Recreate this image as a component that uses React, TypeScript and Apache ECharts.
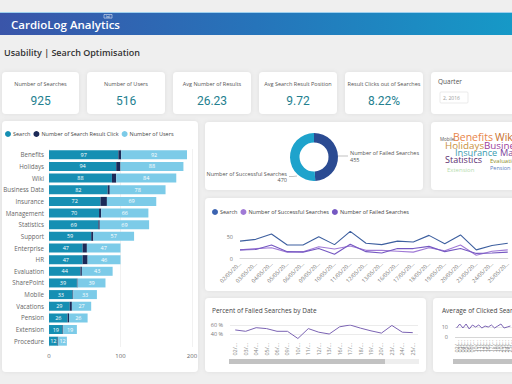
import React, { useEffect, useRef } from "react";
import * as echarts from "echarts";

const kpiLabels = ["Number of Searches", "Number of Users", "Avg Number of Results", "Avg Search Result Position", "Result Clicks out of Searches"];
const kpiValues = ["925", "516", "26.23", "9.72", "8.22%"];

const categories = ["Benefits", "Holidays", "Wiki", "Business Data", "Insurance", "Management", "Statistics", "Support", "Enterprise", "HR", "Evaluation", "SharePoint", "Mobile", "Vacations", "Pension", "Extension", "Procedure"];
const searchVals = [97, 94, 88, 82, 72, 70, 69, 59, 47, 47, 44, 39, 33, 29, 26, 19, 12];
const clickVals = [4, 6, 6, 3, 9, 3, 2, 3, 6, 7, 2, 1, 1, 3, 2, 1, 1];
const userVals = [92, 88, 84, 78, 69, 66, 69, 57, 47, 46, 43, 39, 33, 27, 26, 19, 12];

const donutNames = ["Number of Failed Searches", "Number of Successful Searches"];
const donutVals = [455, 470];

const words = ["Mobile", "Benefits", "Wiki", "Holidays", "Business Data", "Insurance", "Management", "Statistics", "Evaluation", "Extension", "Pension"];

const dates = ["02/05/2016", "03/05/2016", "04/05/2016", "05/05/2016", "06/05/2016", "09/05/2016", "10/05/2016", "11/05/2016", "12/05/2016", "13/05/2016", "16/05/2016", "17/05/2016", "18/05/2016", "19/05/2016", "20/05/2016", "23/05/2016", "24/05/2016", "25/05/2016"];
const searchLine = [40, 44, 56, 31, 31, 50, 32, 62, 35, 32, 40, 38, 53, 34, 54, 20, 30, 35];
const successLine = [20, 23, 25, 15, 16, 27, 22, 29, 19, 19, 17, 15, 25, 18, 31, 8, 17, 20];
const failedLine = [20, 21, 31, 16, 15, 23, 10, 33, 16, 13, 23, 23, 28, 16, 23, 12, 13, 15];
const pctFailed = [49, 46, 54, 52, 46, 46, 30, 52, 44, 40, 56, 60, 53, 47, 42, 59, 44, 43];
const avgClicked = [9, 13, 9, 13, 8, 12, 10, 12, 9, 11, 10, 12, 9, 11, 13, 9, 10, 11];

const FONT = "Open Sans";

// layout of word cloud (position / size / colour), separate from the data
const wordLayout: [number, number, number, string][] = [
  [440, 138.5, 4.5, "#555555"],
  [453, 137, 10.5, "#e8854a"],
  [495, 137, 10.5, "#c8702e"],
  [445, 145, 9.8, "#c9913d"],
  [484, 145, 9.8, "#9b3c9c"],
  [455, 152, 9.2, "#3a9bb0"],
  [500, 152, 9.2, "#7a3f9c"],
  [445, 159, 9, "#5b2d6f"],
  [490, 161, 6, "#8e8e2a"],
  [447, 169.5, 6, "#b5dcae"],
  [490, 167.5, 5.5, "#5d7fbf"],
];

const kpiCards: [number, number][] = [[2, 79], [87, 165], [173, 251], [259, 337], [345, 423]];

function card(x: number, y: number, w: number, h: number) {
  return {
    type: "rect",
    shape: { x, y, width: w, height: h, r: 4 },
    style: { fill: "#ffffff", shadowBlur: 4, shadowColor: "rgba(0,0,0,0.07)" },
    z: 0,
  };
}

function txt(x: number, y: number, text: string, size: number, fill: string, align = "left", weight: any = "normal", family = FONT) {
  return {
    type: "text",
    x,
    y,
    z: 5,
    style: {
      text,
      fill,
      fontSize: size,
      fontFamily: family,
      fontWeight: weight,
      align,
      textAlign: align,
      verticalAlign: "middle",
      textVerticalAlign: "middle",
    },
  };
}

export default function App() {
  const ref = useRef<HTMLDivElement>(null);
  useEffect(() => {
    document.body.style.margin = "0";
    const chart = echarts.init(ref.current!, null, { renderer: "svg" });

    const graphics: any[] = [];
    // header
    graphics.push({
      type: "rect",
      shape: { x: 0, y: 12, width: 512, height: 23 },
      style: {
        fill: new echarts.graphic.LinearGradient(0, 0, 1, 0, [
          { offset: 0, color: "#3a55a9" },
          { offset: 0.5, color: "#2674ba" },
          { offset: 1, color: "#1699c7" },
        ]),
      },
      z: 1,
    });
    graphics.push({ type: "rect", shape: { x: 0, y: 12, width: 512, height: 1 }, style: { fill: "#9fd0ee" }, z: 2 });
    graphics.push(txt(11, 24.5, "CardioLog Analytics", 11.5, "#ffffff", "left", 600));
    graphics.push({ type: "rect", shape: { x: 104, y: 14.5, width: 8, height: 3.6 }, style: { fill: "none", stroke: "#ffffff", lineWidth: 0.5 }, z: 3 });
    graphics.push(txt(108, 16.3, "Intl", 2.6, "#ffffff", "center"));
    graphics.push(txt(4, 52, "Usability | Search Optimisation", 9, "#333333", "left", 600));

    // KPI cards
    kpiCards.forEach(([x0, x1], i) => {
      graphics.push(card(x0, 72, x1 - x0, 42));
      const cx = (x0 + x1) / 2;
      graphics.push(txt(cx, 84, kpiLabels[i], 5.5, "#555555", "center"));
      graphics.push(txt(cx, 101, kpiValues[i], 12, "#23808f", "center", "normal", "Roboto"));
    });
    graphics.push(card(431, 72, 90, 42));
    graphics.push(txt(438, 81, "Quarter", 6.5, "#555555"));
    graphics.push({ type: "rect", shape: { x: 440, y: 92, width: 28, height: 11, r: 1 }, style: { fill: "#ffffff", stroke: "#dddddd", lineWidth: 0.6 }, z: 3 });
    graphics.push(txt(443, 97.5, "2, 2016", 5, "#999999"));

    // other cards
    graphics.push(card(2, 121, 196, 251));
    graphics.push(card(205, 122, 218, 68));
    graphics.push(card(431, 122, 90, 68));
    graphics.push(card(205, 198, 320, 93));
    graphics.push(card(205, 298, 221, 74));
    graphics.push(card(433, 298, 90, 74));

    // word cloud
    words.forEach((w, i) => {
      const [x, y, s, c] = wordLayout[i];
      graphics.push(txt(x, y, w, s, c, "left"));
    });

    // titles
    graphics.push(txt(212, 310, "Percent of Failed Searches by Date", 6.5, "#444444"));
    graphics.push(txt(442, 310, "Average of Clicked Search Results by Date", 6.5, "#444444"));

    // scroll bars
    graphics.push({ type: "rect", shape: { x: 229, y: 359, width: 190, height: 5 }, style: { fill: "#eeeeee" }, z: 3 });
    graphics.push({ type: "rect", shape: { x: 229, y: 359, width: 156, height: 5 }, style: { fill: "#c2c2c2" }, z: 4 });
    graphics.push({ type: "rect", shape: { x: 453, y: 359, width: 80, height: 5 }, style: { fill: "#c2c2c2" }, z: 4 });

    const axisTxt = { fontSize: 5.5, color: "#777777", fontFamily: FONT };
    const trunc = (n: number, suffix: string) => (v: string) => v.slice(0, n) + suffix;

    const option: any = {
      animation: false,
      backgroundColor: "#efefef",
      textStyle: { fontFamily: FONT },
      graphic: { elements: graphics },
      legend: [
        {
          data: ["Search", "Number of Search Result Click", "Number of Users"],
          left: 5,
          top: 131,
          icon: "circle",
          itemWidth: 6,
          itemHeight: 6,
          itemGap: 3,
          padding: 0,
          selectedMode: false,
          textStyle: { fontSize: 5.5, color: "#444444", padding: [0, 0, 0, -3] },
        },
        {
          data: [
            { name: "Search", itemStyle: { color: "#3b63b0" } },
            { name: "Number of Successful Searches" },
            { name: "Number of Failed Searches" },
          ],
          left: 212,
          top: 209,
          icon: "circle",
          itemWidth: 6,
          itemHeight: 6,
          itemGap: 3,
          padding: 0,
          selectedMode: false,
          textStyle: { fontSize: 5.5, color: "#444444", padding: [0, 0, 0, -3] },
        },
      ],
      grid: [
        { left: 49, top: 149, width: 143, height: 198 },
        { left: 240, top: 225.7, width: 313, height: 33 },
        { left: 230, top: 325, width: 188, height: 18 },
        { left: 455, top: 317, width: 188, height: 20 },
      ],
      xAxis: [
        {
          type: "value",
          gridIndex: 0,
          min: 0,
          max: 200,
          interval: 100,
          axisLine: { show: false },
          axisTick: { show: false },
          axisLabel: { fontSize: 6, color: "#666666", margin: 6 },
          splitLine: { lineStyle: { color: "#eeeeee", width: 0.8 } },
        },
        {
          type: "category",
          gridIndex: 1,
          data: dates,
          boundaryGap: false,
          axisLine: { lineStyle: { color: "#cccccc", width: 0.8 } },
          axisTick: { show: false },
          axisLabel: { ...axisTxt, rotate: 45, interval: 0, margin: 4, formatter: trunc(8, "…") },
        },
        {
          type: "category",
          gridIndex: 2,
          data: dates,
          offset: -4,
          axisLine: { show: false },
          axisTick: { show: false },
          axisLabel: { ...axisTxt, color: "#888888", rotate: 90, interval: 0, margin: 4, formatter: trunc(3, "…") },
        },
        {
          type: "category",
          gridIndex: 3,
          data: dates,
          offset: -1,
          axisLine: { show: false },
          axisTick: { show: false },
          axisLabel: { ...axisTxt, color: "#888888", rotate: 90, interval: 0, margin: 4, formatter: trunc(3, "…") },
        },
      ],
      yAxis: [
        {
          type: "category",
          gridIndex: 0,
          data: categories,
          inverse: true,
          axisLine: { show: false },
          axisTick: { show: false },
          axisLabel: { fontSize: 6.2, color: "#666666", margin: 5 },
        },
        {
          type: "value",
          gridIndex: 1,
          min: 0,
          max: 75,
          interval: 50,
          axisLine: { show: false },
          axisTick: { show: false },
          splitLine: { show: false },
          axisLabel: { ...axisTxt, margin: 7, showMaxLabel: false },
        },
        {
          type: "value",
          gridIndex: 2,
          min: 20,
          max: 60,
          interval: 20,
          axisLine: { show: false },
          axisTick: { show: false },
          splitLine: { lineStyle: { color: ["rgba(0,0,0,0)", "#e6e6e6", "#e6e6e6"], width: 0.8 } },
          axisLabel: { ...axisTxt, margin: 7, showMinLabel: false, formatter: "{value} %" },
        },
        {
          type: "value",
          gridIndex: 3,
          min: 0,
          max: 20,
          interval: 10,
          axisLine: { show: false },
          axisTick: { show: false },
          splitLine: { lineStyle: { color: ["#cccccc", "#e6e6e6", "rgba(0,0,0,0)"], width: 0.8 } },
          axisLabel: { ...axisTxt, margin: 7, showMaxLabel: false },
        },
      ],
      series: [
        {
          name: "Search",
          type: "bar",
          xAxisIndex: 0,
          yAxisIndex: 0,
          stack: "s",
          barWidth: 9,
          data: searchVals,
          itemStyle: { color: "#168fb3" },
          label: { show: true, position: "inside", color: "#ffffff", fontSize: 5.5 },
        },
        {
          name: "Number of Search Result Click",
          type: "bar",
          xAxisIndex: 0,
          yAxisIndex: 0,
          stack: "s",
          barWidth: 9,
          data: clickVals,
          itemStyle: { color: "#1c2a58" },
        },
        {
          name: "Number of Users",
          type: "bar",
          xAxisIndex: 0,
          yAxisIndex: 0,
          stack: "s",
          barWidth: 9,
          data: userVals,
          itemStyle: { color: "#7ccbe8" },
          label: { show: true, position: "inside", color: "#ffffff", fontSize: 5.5 },
        },
        {
          type: "pie",
          center: [314, 157],
          radius: [14.5, 24],
          startAngle: 90,
          clockwise: true,
          data: donutNames.map((n, i) => ({ name: n, value: donutVals[i] })),
          color: ["#2b4b92", "#1ea3cc"],
          label: { formatter: "{b}\n{c}", fontSize: 5.5, lineHeight: 6.5, color: "#555555" },
          labelLine: { lineStyle: { color: "#999999", width: 0.6 } },
          labelLayout: (p: any) =>
            p.dataIndex === 0
              ? { x: 350, y: 156.5, align: "left", verticalAlign: "middle", labelLinePoints: [[338, 156], [343, 156], [348, 156]] }
              : { x: 287, y: 177, align: "right", verticalAlign: "middle", labelLinePoints: [[297, 176], [293, 176.5], [289, 176.5]] },
        },
        {
          name: "Search",
          type: "line",
          xAxisIndex: 1,
          yAxisIndex: 1,
          data: searchLine,
          symbol: "none",
          itemStyle: { color: "#3b63b0" },
          lineStyle: { width: 1.1, color: "#3d5f9f" },
        },
        {
          name: "Number of Successful Searches",
          type: "line",
          xAxisIndex: 1,
          yAxisIndex: 1,
          data: successLine,
          symbol: "none",
          itemStyle: { color: "#a07ad6" },
          lineStyle: { width: 1.1, color: "#a07ad6" },
        },
        {
          name: "Number of Failed Searches",
          type: "line",
          xAxisIndex: 1,
          yAxisIndex: 1,
          data: failedLine,
          symbol: "none",
          itemStyle: { color: "#7558c2" },
          lineStyle: { width: 1.1, color: "#7558c2" },
        },
        {
          name: "Percent of Failed Searches",
          type: "line",
          xAxisIndex: 2,
          yAxisIndex: 2,
          data: pctFailed,
          symbol: "none",
          lineStyle: { width: 1, color: "#7b63b3" },
        },
        {
          name: "Average of Clicked Search Results",
          type: "line",
          xAxisIndex: 3,
          yAxisIndex: 3,
          data: avgClicked,
          symbol: "none",
          lineStyle: { width: 1, color: "#7b63b3" },
        },
      ],
    };
    chart.setOption(option);
    return () => chart.dispose();
  }, []);
  return <div ref={ref} style={{ width: 512, height: 384 }} />;
}
